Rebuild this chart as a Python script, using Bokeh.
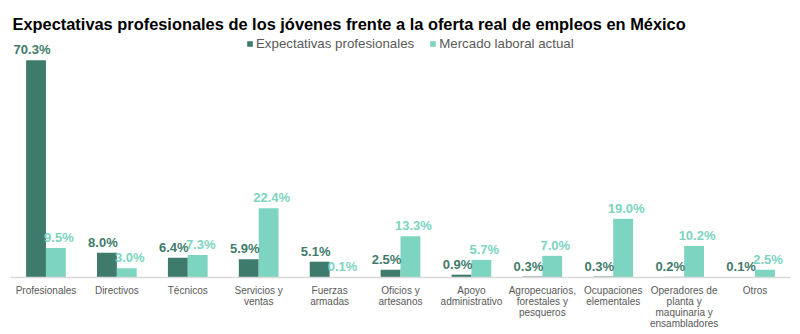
from bokeh.plotting import figure
from bokeh.models import ColumnDataSource, FactorRange, Legend, LegendItem, Span
from bokeh.transform import dodge
from bokeh.embed import file_html
from bokeh.resources import INLINE
from bokeh.core.properties import value

categories = ["Profesionales", "Directivos", "Técnicos", "Servicios y\nventas",
              "Fuerzas\narmadas", "Oficios y\nartesanos", "Apoyo\nadministrativo",
              "Agropecuarios,\nforestales y\npesqueros", "Ocupaciones\nelementales",
              "Operadores de\nplanta y\nmaquinaria y\nensambladores", "Otros"]
expectativas = [70.3, 8.0, 6.4, 5.9, 5.1, 2.5, 0.9, 0.3, 0.3, 0.2, 0.1]
mercado = [9.5, 3.0, 7.3, 22.4, 0.1, 13.3, 5.7, 7.0, 19.0, 10.2, 2.5]
series_names = ["Expectativas profesionales", "Mercado laboral actual"]
title_text = "Expectativas profesionales de los jóvenes frente a la oferta real de empleos en México"

DARK = "#3f7b6c"
LIGHT = "#7dd4c1"
GRAY = "#595959"
FONT = "Liberation Sans"

src = ColumnDataSource(dict(
    cat=categories,
    exp=expectativas,
    mer=mercado,
    exp_lbl=[f"{v:.1f}%" for v in expectativas],
    mer_lbl=[f"{v:.1f}%" for v in mercado],
))

# category labels, one row per text line
lx, ly, lt, loff = [], [], [], []
for c in categories:
    for j, line in enumerate(c.split("\n")):
        lx.append(c)
        ly.append(0)
        lt.append(line)
        loff.append(13.5 + 11 * j)
lab_src = ColumnDataSource(dict(x=lx, y=ly, t=lt, off=loff))

p = figure(width=800, height=334, x_range=FactorRange(*categories, range_padding=0),
           y_range=(-18.45, 78.6), output_backend="svg", toolbar_location=None,
           min_border_left=10, min_border_right=10, min_border_bottom=0,
           min_border_top=34, outline_line_color=None)

p.title.text = title_text
p.title.text_font = FONT
p.title.text_font_size = "16.4px"
p.title.text_font_style = "bold"
p.title.text_color = "#000000"
p.title.offset = 2
p.title.standoff = 4

bw = 0.28
r1 = p.vbar(x=dodge("cat", -bw / 2, range=p.x_range), top="exp", width=bw, source=src,
            fill_color=DARK, line_color=None)
r2 = p.vbar(x=dodge("cat", bw / 2, range=p.x_range), top="mer", width=bw, source=src,
            fill_color=LIGHT, line_color=None)

p.text(x=dodge("cat", -bw / 2, range=p.x_range), y="exp", text="exp_lbl", source=src,
       text_align="center", text_baseline="bottom", y_offset=-3, x_offset=-4,
       text_font=value(FONT), text_font_style="bold",
       text_font_size="13px", text_color=DARK)
p.text(x=dodge("cat", bw / 2, range=p.x_range), y="mer", text="mer_lbl", source=src,
       text_align="center", text_baseline="bottom", y_offset=-3, x_offset=3,
       text_font=value(FONT), text_font_style="bold",
       text_font_size="13px", text_color=LIGHT)

p.add_layout(Span(location=0, dimension="width", line_color="#d9d9d9", line_width=1.5))

p.text(x="x", y="y", text="t", y_offset="off", source=lab_src,
       text_align="center", text_baseline="alphabetic",
       text_font=value(FONT), text_font_size="10px", text_color=GRAY)

legend = Legend(items=[LegendItem(label=series_names[0], renderers=[r1]),
                       LegendItem(label=series_names[1], renderers=[r2])],
                orientation="horizontal", location=(236, 283),
                padding=0, margin=0, spacing=15, label_standoff=3,
                glyph_width=7, glyph_height=7, label_height=16,
                label_text_font=FONT, label_text_font_size="13.3px",
                label_text_color=GRAY, background_fill_alpha=0,
                border_line_color=None)
p.add_layout(legend)

p.xgrid.grid_line_color = None
p.ygrid.grid_line_color = None
p.xaxis.visible = False
p.yaxis.visible = False

open("out.html", "w").write(file_html(p, INLINE))
